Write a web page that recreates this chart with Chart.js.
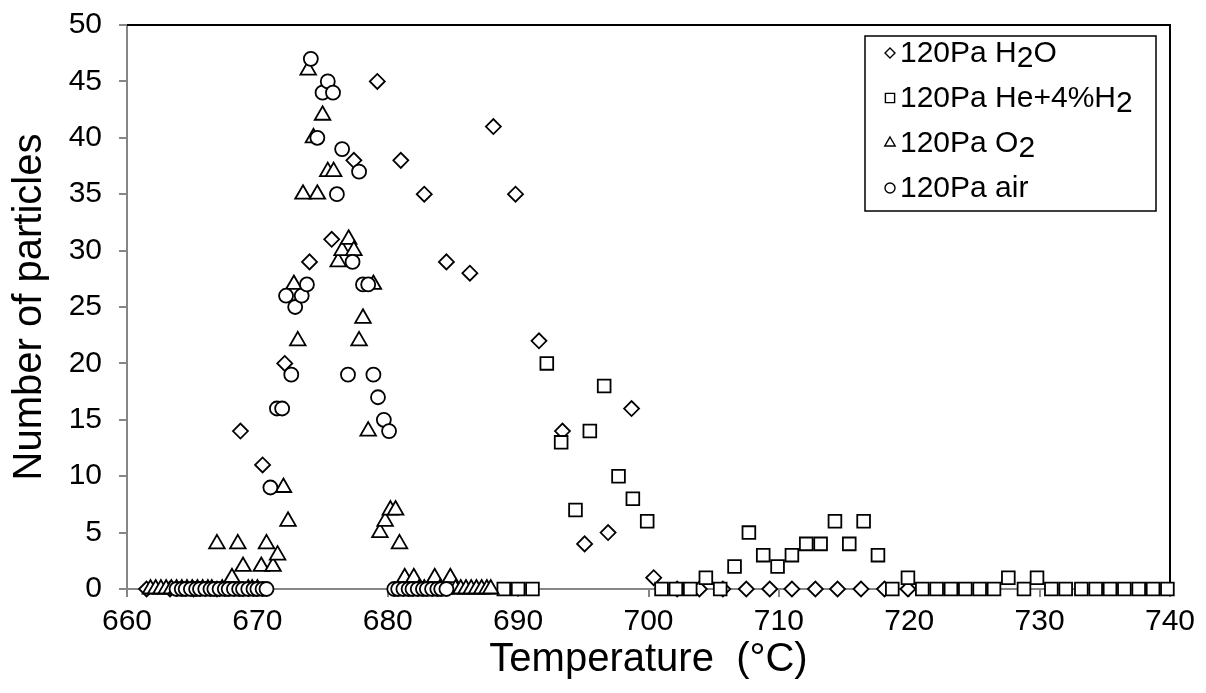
<!DOCTYPE html>
<html>
<head>
<meta charset="utf-8">
<script src="https://cdn.jsdelivr.net/npm/chart.js@4.4.0/dist/chart.umd.min.js"></script>
<style>
  html, body { margin: 0; padding: 0; background: #fff; }
</style>
</head>
<body>
<canvas id="myChart" width="1206" height="693"></canvas>
<script>
// series names (₂ is drawn as a lowered 2 in the legend)
const seriesNames = ['120Pa H₂O', '120Pa He+4%H₂', '120Pa O₂', '120Pa air'];

// 120Pa H2O
const h2oTemp = [661.5, 663.3, 665.1, 666.9, 668.7, 670.4, 672.1, 674.0, 675.7, 677.4, 679.2, 681.0, 682.8, 684.5,
  686.3, 688.1, 689.8, 691.6, 693.4, 695.1, 696.9, 698.7, 700.4, 702.2, 703.9, 705.7, 707.5, 709.3, 711.0, 712.8,
  714.5, 716.3, 718.1, 719.9];
const h2oCount = [0, 0, 0, 0, 14, 11, 20, 29, 31, 38, 45, 38, 35, 29,
  28, 41, 35, 22, 14, 4, 5, 16, 1, 0, 0, 0, 0, 0, 0, 0,
  0, 0, 0, 0];

// 120Pa He+4%H2
const heTemp = [688.9, 690.0, 691.1, 692.2, 693.3, 694.4, 695.5, 696.6, 697.7, 698.8, 699.9, 701.0, 702.1, 703.2,
  704.4, 705.5, 706.6, 707.7, 708.8, 709.9, 711.0, 712.1, 713.2, 714.3, 715.4, 716.5, 717.6, 718.7, 719.9,
  721.0, 722.1, 723.2, 724.3, 725.4, 726.5, 727.6, 728.8, 729.8, 730.9, 732.0, 733.2, 734.3, 735.4, 736.5,
  737.6, 738.7, 739.8];
const heCount = [0, 0, 0, 20, 13, 7, 14, 18, 10, 8, 6, 0, 0, 0,
  1, 0, 2, 5, 3, 2, 3, 4, 4, 6, 4, 6, 3, 0, 1,
  0, 0, 0, 0, 0, 0, 1, 0, 1, 0, 0, 0, 0, 0, 0,
  0, 0, 0];

// 120Pa O2
const o2Temp = [661.8, 662.2, 662.6, 663.0, 663.4, 663.8, 664.2, 664.6, 665.0, 665.4, 665.8, 666.2, 666.5, 666.9,
  667.3, 667.7, 668.05, 668.5, 668.9, 669.3, 669.6, 670.0, 670.3, 670.7, 671.2, 671.55, 672.0, 672.35, 672.8,
  673.1, 673.5, 673.9, 674.3, 674.6, 675.0, 675.4, 675.85, 676.2, 676.5, 677.0, 677.4, 677.8, 678.1, 678.5,
  678.9, 679.4, 679.8, 680.2, 680.6, 680.9, 681.3, 681.7, 682.0, 682.4, 682.8, 683.2, 683.6, 684.0, 684.4,
  684.8, 685.2, 685.6, 686.0, 686.4, 686.8, 687.2, 687.6, 687.9];
const o2Count = [0, 0, 0, 0, 0, 0, 0, 0, 0, 0, 0, 0, 0, 4,
  0, 0, 1, 4, 2, 0, 0, 0, 2, 4, 2, 3, 9, 6, 27,
  22, 35, 46, 40, 35, 42, 37, 37, 29, 30, 31, 30, 22, 24, 14,
  27, 5, 6, 7, 7, 4, 1, 0, 1, 0, 0, 0, 1, 0, 0,
  1, 0, 0, 0, 0, 0, 0, 0, 0];

// 120Pa air
const airTemp = [663.8, 664.2, 664.5, 664.9, 665.3, 665.6, 666.0, 666.4, 666.7, 667.1, 667.5, 667.8, 668.2, 668.6,
  668.9, 669.3, 669.7, 670.0, 670.4, 670.7, 671.0, 671.5, 671.9, 672.2, 672.6, 672.9, 673.4, 673.8, 674.1,
  674.6, 675.0, 675.4, 675.8, 676.1, 676.5, 676.95, 677.3, 677.8, 678.1, 678.5, 678.9, 679.25, 679.7, 680.1,
  680.5, 680.8, 681.2, 681.6, 681.9, 682.3, 682.7, 683.0, 683.4, 683.8, 684.1, 684.5];
const airCount = [0, 0, 0, 0, 0, 0, 0, 0, 0, 0, 0, 0, 0, 0,
  0, 0, 0, 0, 0, 0, 9, 16, 16, 26, 19, 25, 26, 27, 47,
  40, 44, 45, 44, 35, 39, 19, 29, 37, 27, 27, 19, 17, 15, 14,
  0, 0, 0, 0, 0, 0, 0, 0, 0, 0, 0, 0];

// axis ticks
const xTicks = [660, 670, 680, 690, 700, 710, 720, 730, 740];
const yTicks = [0, 5, 10, 15, 20, 25, 30, 35, 40, 45, 50];

const FONT = "'Liberation Sans', Arial, sans-serif";
const AXIS_GREY = '#868686';

function toPoints(xs, ys) {
  return xs.map((x, i) => ({ x: x, y: ys[i] }));
}

function markerSet(label, xs, ys, style, radius, legendRadius, order) {
  return {
    label: label,
    data: toPoints(xs, ys),
    showLine: false,
    pointStyle: style,
    pointRadius: radius,
    pointBackgroundColor: '#ffffff',
    pointBorderColor: '#000000',
    pointBorderWidth: 1.8,
    legendRadius: legendRadius,
    clip: false,
    order: order
  };
}

// black frame on top and right of the plot area
const plotFrame = {
  id: 'plotFrame',
  beforeDatasetsDraw(chart) {
    const { ctx, chartArea } = chart;
    ctx.save();
    ctx.strokeStyle = '#000';
    ctx.lineWidth = 2;
    ctx.beginPath();
    ctx.moveTo(chartArea.left, chartArea.top);
    ctx.lineTo(chartArea.right, chartArea.top);
    ctx.lineTo(chartArea.right, chartArea.bottom);
    ctx.stroke();
    ctx.restore();
  }
};

// boxed legend with lowered subscripts
function drawLabel(ctx, text, x, y) {
  const parts = text.split('₂');
  parts.forEach((p, k) => {
    ctx.fillText(p, x, y);
    x += ctx.measureText(p).width;
    if (k < parts.length - 1) {
      ctx.fillText('2', x, y + 5);
      x += ctx.measureText('2').width;
    }
  });
}

const boxLegend = {
  id: 'boxLegend',
  afterDraw(chart) {
    const { ctx, chartArea } = chart;
    const w = 291, h = 175;
    const left = chartArea.right - 14 - w;
    const top = chartArea.top + 11;
    ctx.save();
    ctx.fillStyle = '#fff';
    ctx.fillRect(left, top, w, h);
    ctx.strokeStyle = '#000';
    ctx.lineWidth = 1.5;
    ctx.strokeRect(left, top, w, h);
    chart.data.datasets.forEach((ds, i) => {
      const y = top + 17 + i * 45;
      ctx.fillStyle = '#fff';
      ctx.strokeStyle = '#000';
      ctx.lineWidth = 1.4;
      Chart.helpers.drawPoint(ctx, { pointStyle: ds.pointStyle, radius: ds.legendRadius, borderWidth: 1.4, rotation: 0 }, left + 25, y);
      ctx.fillStyle = '#000';
      ctx.font = '30px ' + FONT;
      ctx.textBaseline = 'middle';
      ctx.textAlign = 'left';
      drawLabel(ctx, ds.label, left + 35, y + 1);
    });
    ctx.restore();
  }
};

const ctx = document.getElementById('myChart');
new Chart(ctx, {
  type: 'scatter',
  data: {
    datasets: [
      markerSet(seriesNames[0], h2oTemp, h2oCount, 'rectRot', 7.5, 5, 4),
      markerSet(seriesNames[1], heTemp, heCount, 'rect', 9, 6.5, 3),
      markerSet(seriesNames[2], o2Temp, o2Count, 'triangle', 9, 6, 2),
      markerSet(seriesNames[3], airTemp, airCount, 'circle', 7, 5, 1)
    ]
  },
  options: {
    responsive: false,
    animation: false,
    events: [],
    layout: { padding: { top: 25, right: 36, left: 0, bottom: 0 } },
    plugins: {
      legend: { display: false },
      tooltip: { enabled: false }
    },
    scales: {
      x: {
        type: 'linear',
        min: 660,
        max: 740,
        afterBuildTicks: s => { s.ticks = xTicks.map(v => ({ value: v })); },
        afterFit: s => { s.height = 104; s.paddingRight = 0; s.paddingLeft = 0; },
        ticks: { color: '#000', font: { family: FONT, size: 30 }, padding: 7, maxRotation: 0 },
        grid: { drawOnChartArea: false, color: AXIS_GREY, lineWidth: 2, tickLength: 8 },
        border: { color: AXIS_GREY, width: 2 },
        title: {
          display: true,
          text: 'Temperature  (°C)',
          color: '#000',
          font: { family: FONT, size: 40 },
          padding: { top: 0, bottom: 9 }
        }
      },
      y: {
        min: 0,
        max: 50,
        afterBuildTicks: s => { s.ticks = yTicks.map(v => ({ value: v })); },
        afterFit: s => { s.width = 127; s.paddingTop = 0; s.paddingBottom = 0; },
        ticks: { color: '#000', font: { family: FONT, size: 30 }, padding: 17 },
        grid: { drawOnChartArea: false, color: AXIS_GREY, lineWidth: 2, tickLength: 8 },
        border: { color: AXIS_GREY, width: 2 },
        title: {
          display: true,
          text: 'Number of particles',
          color: '#000',
          font: { family: FONT, size: 40 },
          padding: { top: 6, bottom: 0 }
        }
      }
    }
  },
  plugins: [plotFrame, boxLegend]
});
</script>
</body>
</html>
